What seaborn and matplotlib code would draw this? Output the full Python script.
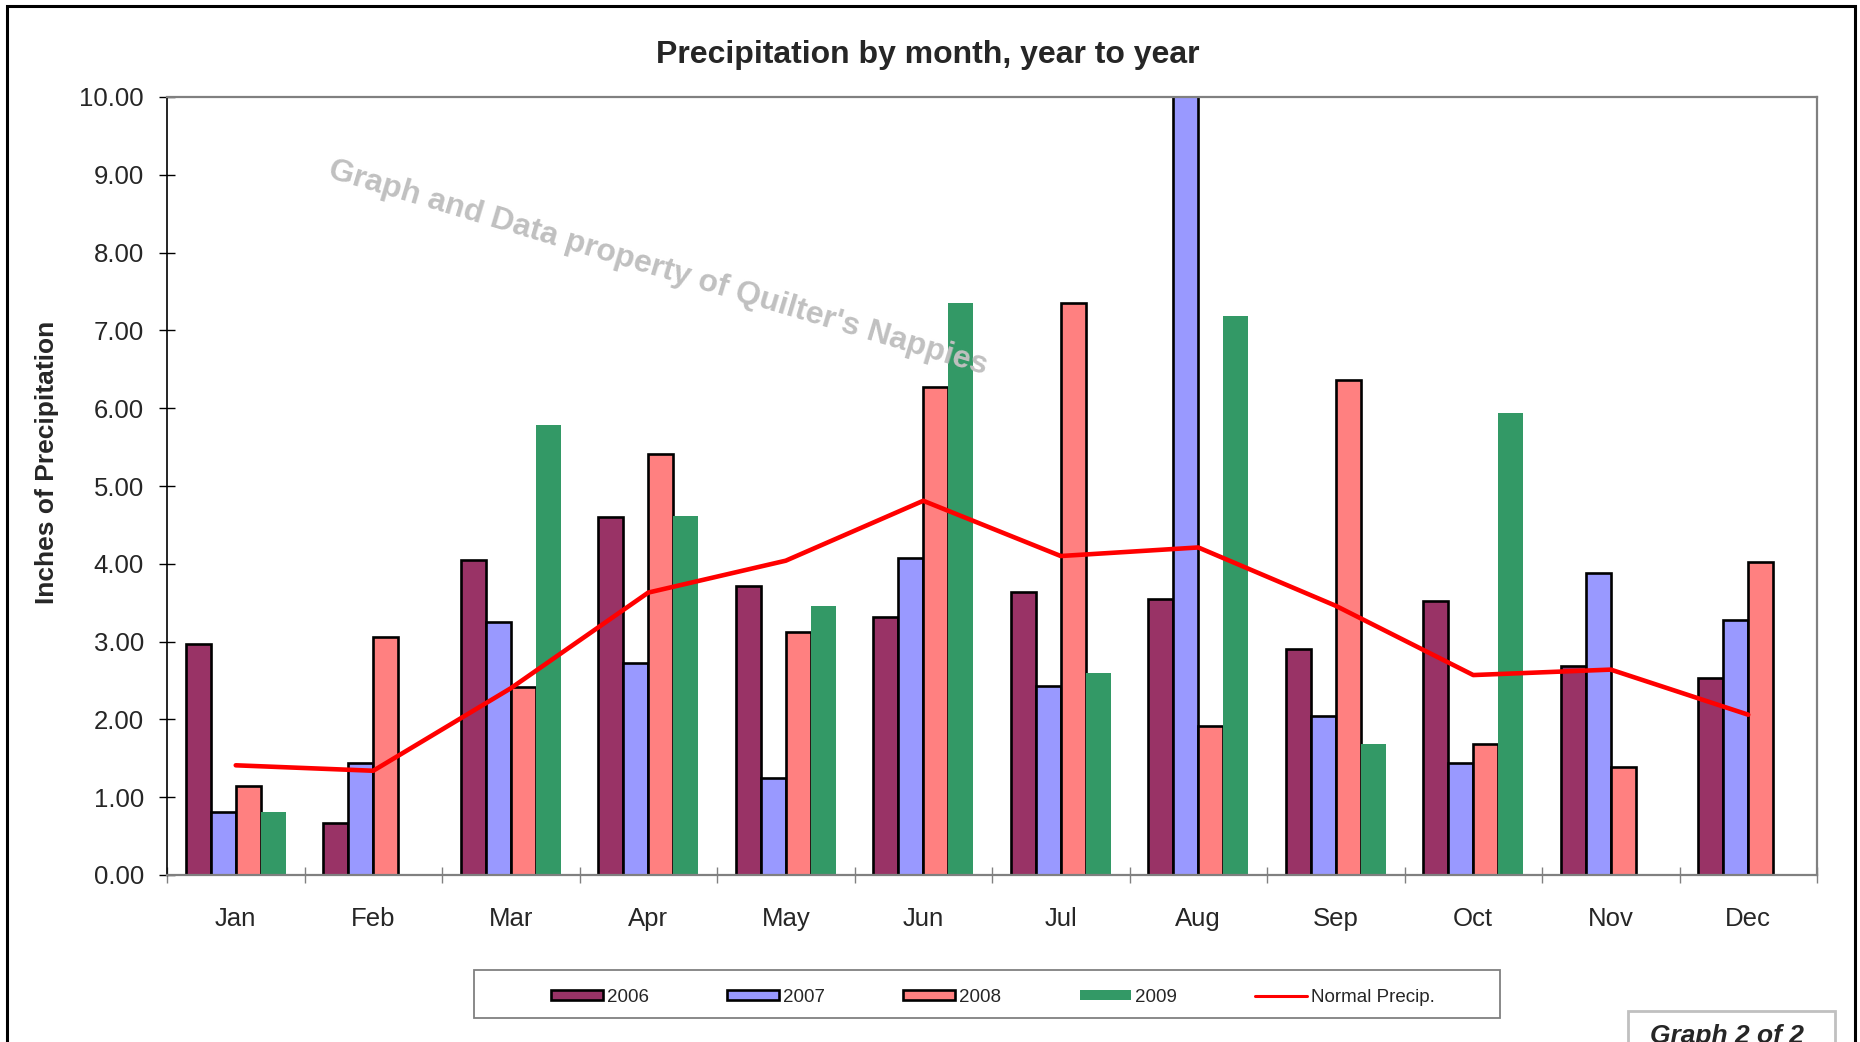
import numpy as np
import pandas as pd
import matplotlib
matplotlib.use('Agg')
import matplotlib.pyplot as plt
import seaborn as sns
from matplotlib.patches import Patch, Rectangle
from matplotlib.lines import Line2D

# ---- data ----
months = ['Jan', 'Feb', 'Mar', 'Apr', 'May', 'Jun', 'Jul', 'Aug', 'Sep', 'Oct', 'Nov', 'Dec']
years = ['2006', '2007', '2008', '2009']
p2006 = [2.97, 0.67, 4.05, 4.60, 3.72, 3.32, 3.64, 3.55, 2.91, 3.52, 2.69, 2.53]
p2007 = [0.81, 1.44, 3.25, 2.73, 1.25, 4.07, 2.43, 10.50, 2.04, 1.44, 3.88, 3.28]
p2008 = [1.14, 3.06, 2.42, 5.41, 3.12, 6.27, 7.35, 1.91, 6.36, 1.69, 1.39, 4.02]
p2009 = [0.81, np.nan, 5.79, 4.61, 3.46, 7.35, 2.59, 7.19, 1.69, 5.94, np.nan, np.nan]
normal = [1.41, 1.34, 2.40, 3.63, 4.04, 4.81, 4.10, 4.21, 3.46, 2.57, 2.64, 2.06]
yticks = [0, 1, 2, 3, 4, 5, 6, 7, 8, 9, 10]

colors = {'2006': '#993366', '2007': '#9999FF', '2008': '#FF8080', '2009': '#339966'}

rows = []
for yr, vals in zip(years, [p2006, p2007, p2008, p2009]):
    for m, v in zip(months, vals):
        rows.append({'month': m, 'year': yr, 'precip': v})
df = pd.DataFrame(rows)

sns.set_theme(style='white')
plt.rcParams['font.family'] = ['Liberation Sans', 'DejaVu Sans']

fig = plt.figure(figsize=(18.6, 10.42), dpi=100)
ax = fig.add_axes([167 / 1860, 1 - 875 / 1042, (1817 - 167) / 1860, (875 - 97) / 1042])

sns.barplot(data=df, x='month', y='precip', hue='year', order=months, hue_order=years,
            palette=colors, width=0.727, saturation=1, edgecolor='black', linewidth=1.9,
            errorbar=None, legend=False, ax=ax)
# 2009 bars have no outline
for bar in ax.containers[3]:
    bar.set_edgecolor(colors['2009'])
    bar.set_linewidth(0)

sns.lineplot(x=np.arange(len(months)), y=normal, color='#FF0000', linewidth=3.3, ax=ax)

ax.set_xlim(-0.5, len(months) - 0.5)
ax.set_ylim(0, 10)
ax.set_xlabel('')
ax.set_ylabel('')

ax.set_yticks(yticks)
ax.set_yticklabels([f'{v:.2f}' for v in yticks])
ax.tick_params(axis='y', direction='inout', length=11, width=1, color='black',
               labelsize=18.5, pad=11, left=True)

ax.set_xticks(np.arange(-0.5, len(months), 1))
ax.set_xticklabels([''] * (len(months) + 1))
ax.set_xticks(np.arange(len(months)), minor=True)
ax.set_xticklabels(months, minor=True)
ax.tick_params(axis='x', which='major', direction='inout', length=11, width=1,
               color='#808080', bottom=True)
ax.tick_params(axis='x', which='minor', length=0, labelsize=18.5, pad=23, bottom=True)

for s in ['top', 'right', 'bottom']:
    ax.spines[s].set_color('#808080')
    ax.spines[s].set_linewidth(1.6)
ax.spines['left'].set_color('black')
ax.spines['left'].set_linewidth(1.2)
ax.grid(False)

# title, y label
fig.text(928 / 1860, 1 - 55.5 / 1042, 'Precipitation by month, year to year',
         ha='center', va='center', fontsize=23, fontweight='bold')
fig.text(47 / 1860, 1 - 462 / 1042, 'Inches of Precipitation', rotation=90,
         ha='center', va='center', fontsize=19, fontweight='bold')

# watermark
fig.text(658 / 1860, 1 - 268 / 1042, "Graph and Data property of Quilter's Nappies",
         rotation=-16.7, rotation_mode='anchor', ha='center', va='center',
         fontsize=23, fontweight='bold', color='#C0C0C0', zorder=10)

# legend box
fig.add_artist(Rectangle((474 / 1860, 1 - 1018 / 1042), (1500 - 474) / 1860, 48 / 1042,
                         transform=fig.transFigure, facecolor='white', edgecolor='#808080',
                         linewidth=1.3))
handles = [Patch(facecolor=colors['2006'], edgecolor='black', linewidth=1.9),
           Patch(facecolor=colors['2007'], edgecolor='black', linewidth=1.9),
           Patch(facecolor=colors['2008'], edgecolor='black', linewidth=1.9),
           Patch(facecolor=colors['2009'], edgecolor='none'),
           Line2D([], [], color='#FF0000', linewidth=2.2)]
labels = years + ['Normal Precip.']
leg = fig.legend(handles, labels, loc='center', bbox_to_anchor=(993 / 1860, 1 - 997 / 1042),
                 ncol=5, fontsize=13.5, frameon=False, handlelength=2.75, handleheight=0.5,
                 handletextpad=0.2, columnspacing=4.2, borderpad=0.5)
leg.set_zorder(5)

# "Graph 2 of 2" box (cut by the bottom edge, as in the source image)
fig.add_artist(Rectangle((1628 / 1860, -0.05), (1835 - 1628) / 1860, 0.05 + 1 - 1011 / 1042,
                         transform=fig.transFigure, facecolor='white', edgecolor='#C0C0C0',
                         linewidth=2, clip_on=False))
fig.text(1727 / 1860, 1 - 1024 / 1042, 'Graph 2 of 2', ha='center', va='top',
         fontsize=19, fontweight='bold', fontstyle='italic')

# outer frame
fig.add_artist(Rectangle((7 / 1860, -0.1), (1855 - 7) / 1860, 0.1 + 1 - 6 / 1042,
                         transform=fig.transFigure, fill=False, edgecolor='black',
                         linewidth=2.2, clip_on=False))

fig.savefig('out.png', dpi=100)
